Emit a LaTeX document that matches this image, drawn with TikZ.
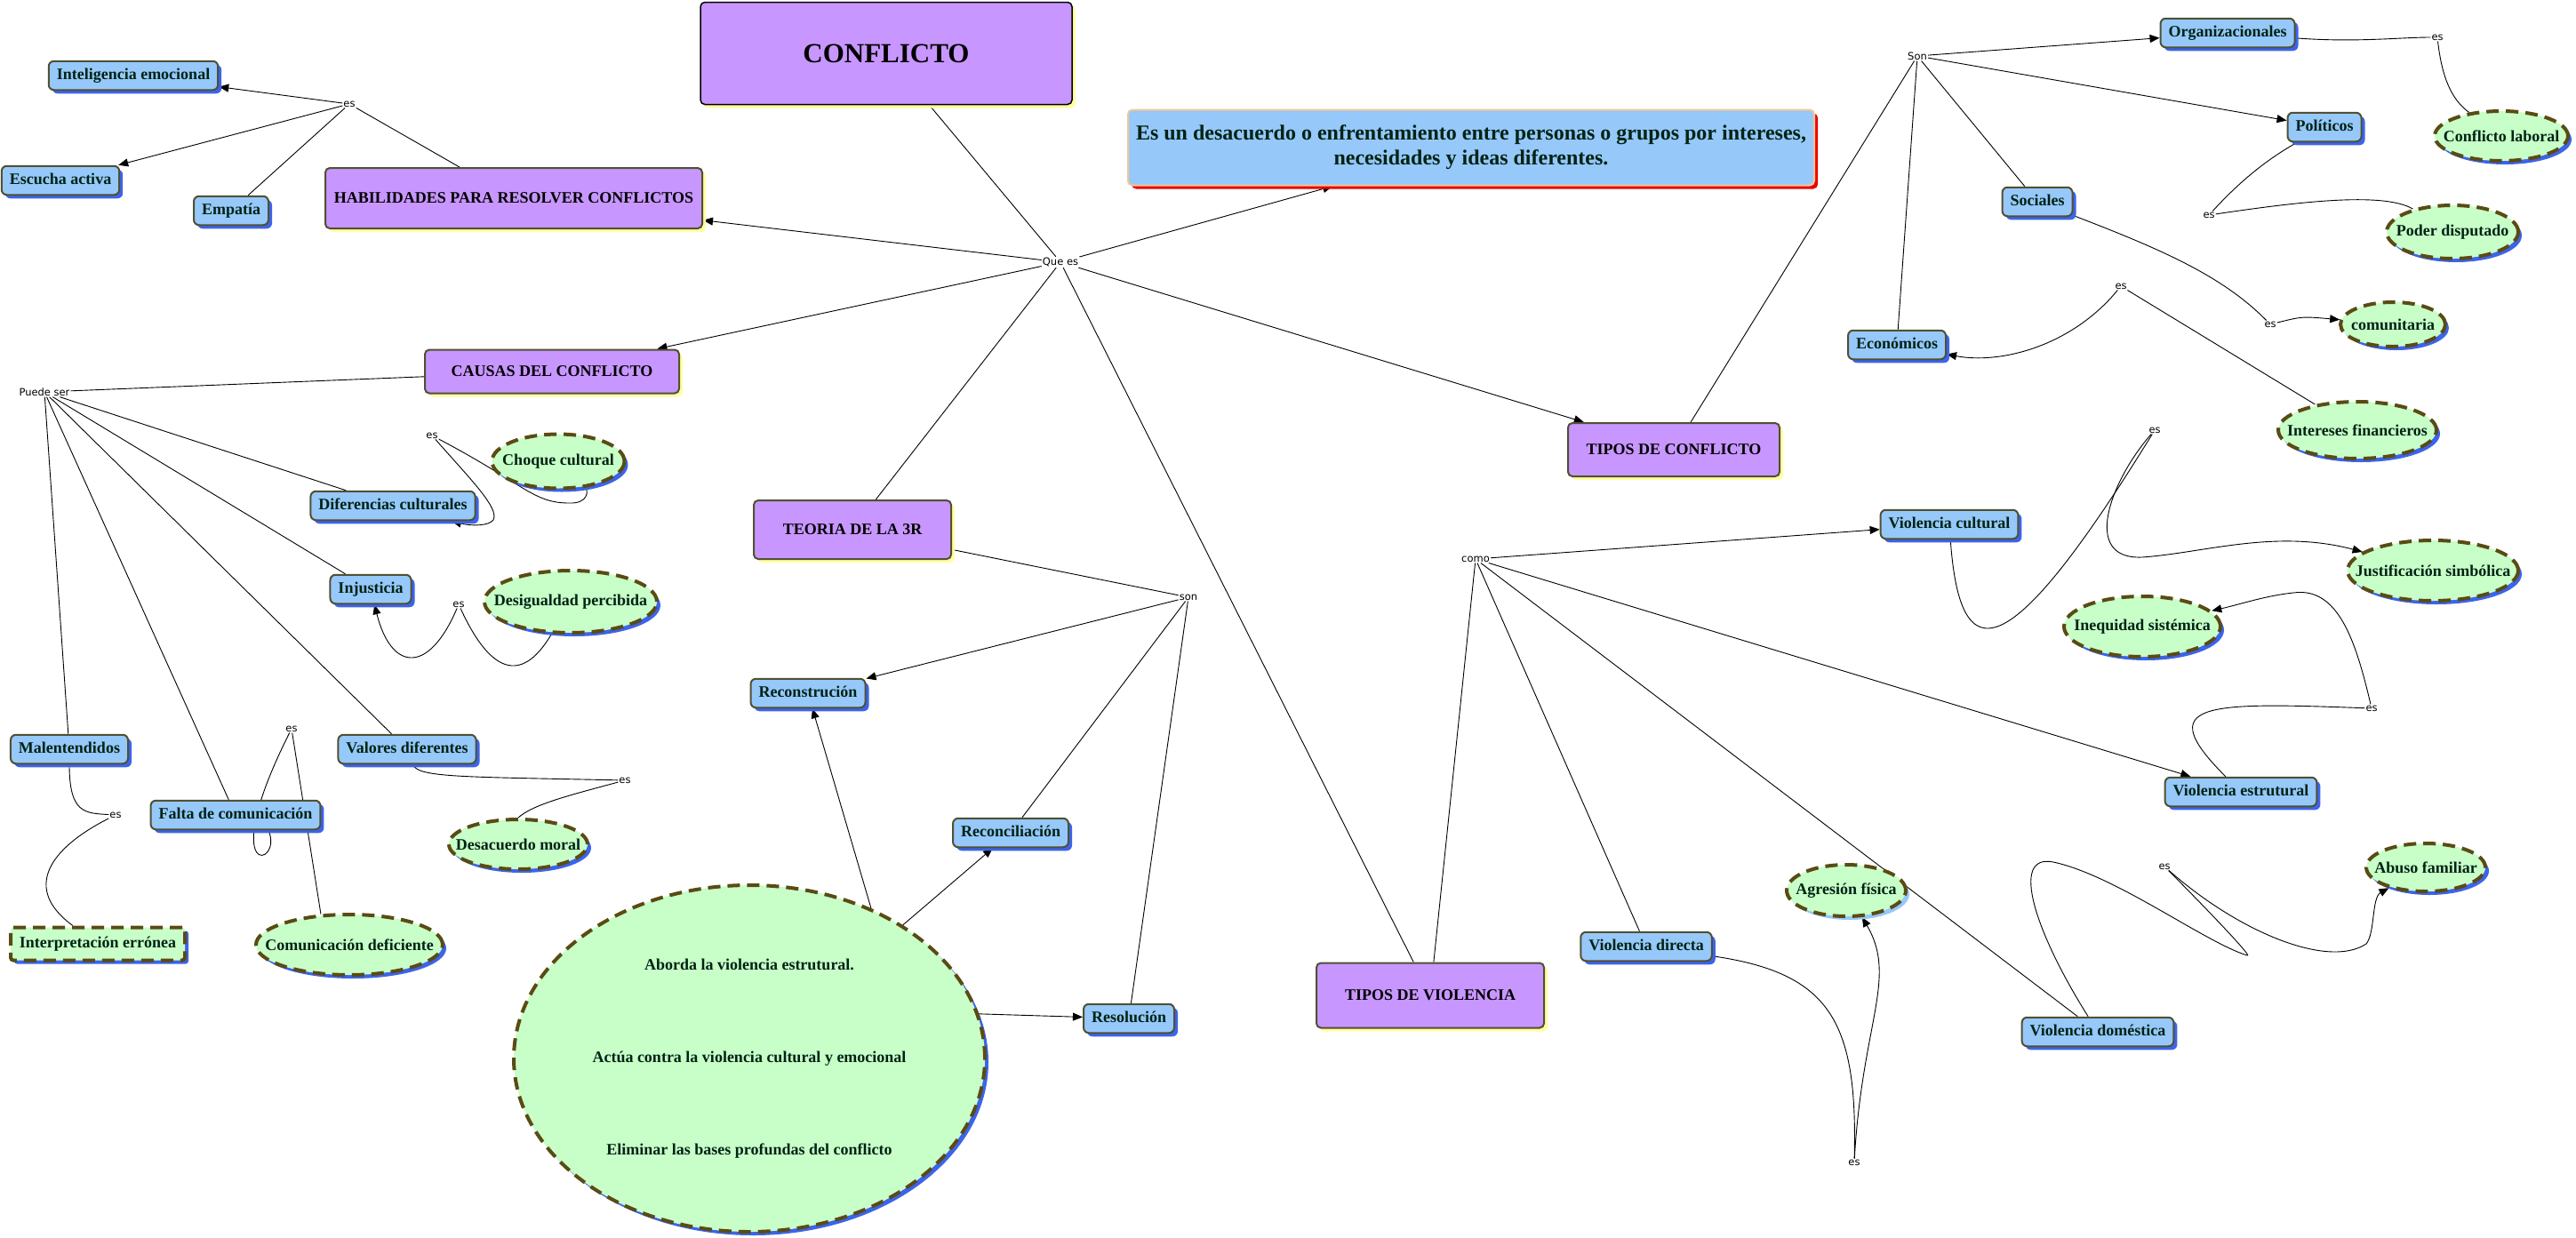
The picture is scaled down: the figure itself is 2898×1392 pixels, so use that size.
\documentclass[tikz,border=0pt]{standalone}
\usepackage{fontspec}
\setmainfont{Liberation Serif}
\newfontfamily\phrasefont{DejaVu Sans}
\usetikzlibrary{shapes.geometric,shadows,arrows.meta,backgrounds}
\definecolor{conceptblue}{RGB}{150,200,250}
\definecolor{shadowblue}{RGB}{60,100,235}
\definecolor{edgeolive}{RGB}{80,80,50}
\definecolor{topicpurple}{RGB}{200,150,255}
\definecolor{topicshadow}{RGB}{255,255,160}
\definecolor{ideagreen}{RGB}{200,255,200}
\definecolor{dashbrown}{RGB}{90,75,20}
\definecolor{textgreen}{RGB}{0,35,20}
\definecolor{deftan}{RGB}{240,200,150}
\definecolor{defred}{RGB}{235,0,0}
\begin{document}
\begin{tikzpicture}[x=1pt, y=-1pt,
  conn/.style={line width=0.9pt, black},
  arr/.style={-{Triangle[length=11pt,width=9pt]}},
  bshadow/.style={drop shadow={shadow xshift=4pt, shadow yshift=-4pt, fill=shadowblue, opacity=1}},
  lshadow/.style={drop shadow={shadow xshift=4pt, shadow yshift=-4pt, fill=conceptblue, opacity=1}},
  concept/.style={draw=edgeolive, line width=2pt, fill=conceptblue, rounded corners=6pt, text=textgreen,
    font=\bfseries\fontsize{18}{21}\selectfont, inner xsep=9pt, inner ysep=8pt, text height=12.5pt, text depth=4pt, bshadow},
  topic/.style={draw=edgeolive, line width=2pt, fill=topicpurple, rounded corners=5pt, text=black,
    font=\bfseries\fontsize{18}{21}\selectfont,
    drop shadow={shadow xshift=4pt, shadow yshift=-4pt, fill=topicshadow, opacity=1}},
  idea/.style={ellipse, draw=dashbrown, line width=4pt, dash pattern=on 14pt off 8pt, fill=ideagreen, text=textgreen,
    font=\bfseries\fontsize{18}{21}\selectfont, inner xsep=-30pt, inner ysep=0pt},
  idearect/.style={draw=dashbrown, line width=4pt, dash pattern=on 14pt off 8pt, fill=ideagreen, text=textgreen,
    rounded corners=3pt, font=\bfseries\fontsize{18}{21}\selectfont, bshadow},
  defbox/.style={draw=deftan, line width=2pt, fill=conceptblue, rounded corners=5pt, text=textgreen, align=center,
    font=\bfseries\fontsize{24}{28}\selectfont, inner xsep=8pt,
    drop shadow={shadow xshift=4pt, shadow yshift=-4pt, fill=defred, opacity=1}},
  phrase/.style={font=\phrasefont\fontsize{11.5}{13}\selectfont, inner sep=1pt}]
\useasboundingbox (0,0) rectangle (2898,1392);

\node[topic, minimum width=418pt, minimum height=115pt, draw=black, line width=1.5pt, font=\bfseries\fontsize{31}{36}\selectfont] (conflicto) at (997,60) {CONFLICTO};
\node[defbox, minimum width=772pt, minimum height=85pt] (definicion) at (1655,166) {Es un desacuerdo o enfrentamiento entre personas o grupos por intereses,\\ necesidades y ideas diferentes.};
\node[phrase] (quees) at (1193,295) {Que es};

% habilidades
\node[topic, minimum width=424pt, minimum height=68pt] (habilidades) at (578,223) {HABILIDADES PARA RESOLVER CONFLICTOS};
\node[phrase] (esHab) at (393,117) {es};
\node[concept] (inteligencia) at (150,85) {Inteligencia emocional};
\node[concept] (escucha) at (68,203) {Escucha activa};
\node[concept] (empatia) at (260,237) {Empatía};

% causas
\node[topic, minimum width=286pt, minimum height=49pt] (causas) at (621,418) {CAUSAS DEL CONFLICTO};
\node[phrase] (puedeser) at (50,441) {Puede ser};
\node[concept] (diferencias) at (442,569) {Diferencias culturales};
\node[phrase] (esDif) at (486,490) {es};
\node[idea, bshadow, minimum width=149pt, minimum height=61pt] (choque) at (628,519) {Choque cultural};
\node[concept] (injusticia) at (417,663) {Injusticia};
\node[phrase] (esInj) at (516,680) {es};
\node[idea, bshadow, minimum width=194pt, minimum height=70pt] (desigualdad) at (642,677) {Desigualdad percibida};
\node[concept] (malentendidos) at (78,843) {Malentendidos};
\node[phrase] (esMal) at (130,917) {es};
\node[idearect, minimum width=196pt, minimum height=37pt] (interpretacion) at (110,1062) {Interpretación errónea};
\node[concept] (falta) at (265,917) {Falta de comunicación};
\node[phrase] (esFal) at (328,820) {es};
\node[idea, bshadow, minimum width=210pt, minimum height=68pt] (comunicacion) at (393,1063) {Comunicación deficiente};
\node[concept] (valores) at (458,843) {Valores diferentes};
\node[phrase] (esVal) at (703,878) {es};
\node[idea, bshadow, minimum width=156pt, minimum height=56pt] (desacuerdo) at (583,950) {Desacuerdo moral};

% teoria 3R
\node[topic, minimum width=222pt, minimum height=66pt] (teoria) at (959,596) {TEORIA DE LA 3R};
\node[phrase] (son3r) at (1337,672) {son};
\node[concept] (reconstrucion) at (909,780) {Reconstrución};
\node[concept] (reconciliacion) at (1137,937) {Reconciliación};
\node[concept] (resolucion) at (1270,1146) {Resolución};
\node[idea, bshadow, minimum width=530pt, minimum height=390pt, align=center] (circulo) at (843,1191)
  {Aborda la violencia estrutural.\\[83pt] Actúa contra la violencia cultural y emocional\\[83pt] Eliminar las bases profundas del conflicto};

% tipos de conflicto
\node[topic, minimum width=238pt, minimum height=60pt] (tiposconf) at (1883,506) {TIPOS DE CONFLICTO};
\node[phrase] (sonTipos) at (2157,63) {Son};
\node[concept] (organizacionales) at (2506,37) {Organizacionales};
\node[phrase] (esOrg) at (2742,42) {es};
\node[idea, bshadow, minimum width=150pt, minimum height=56pt] (laboral) at (2814,153) {Conflicto laboral};
\node[concept] (politicos) at (2615,143) {Políticos};
\node[phrase] (esPol) at (2485,242) {es};
\node[idea, bshadow, minimum width=148pt, minimum height=60pt] (poder) at (2759,261) {Poder disputado};
\node[concept] (sociales) at (2292,227) {Sociales};
\node[phrase] (esSoc) at (2554,365) {es};
\node[idea, bshadow, minimum width=118pt, minimum height=50pt] (comunitaria) at (2692,365) {comunitaria};
\node[concept] (economicos) at (2134,388) {Económicos};
\node[phrase] (esEco) at (2386,322) {es};
\node[idea, bshadow, minimum width=178pt, minimum height=64pt] (intereses) at (2652,484) {Intereses financieros};

% tipos de violencia
\node[topic, minimum width=256pt, minimum height=73pt] (tiposviol) at (1609,1120) {TIPOS DE VIOLENCIA};
\node[phrase] (como) at (1660,629) {como};
\node[concept] (vcultural) at (2193,590) {Violencia cultural};
\node[phrase] (esCul) at (2424,484) {es};
\node[idea, bshadow, minimum width=192pt, minimum height=68pt] (justificacion) at (2737,642) {Justificación simbólica};
\node[concept] (vestrutural) at (2521,891) {Violencia estrutural};
\node[phrase] (esEst) at (2668,797) {es};
\node[idea, bshadow, minimum width=176pt, minimum height=68pt] (inequidad) at (2410,705) {Inequidad sistémica};
\node[concept] (vdirecta) at (1852,1065) {Violencia directa};
\node[phrase] (esDir) at (2086,1308) {es};
\node[idea, lshadow, minimum width=134pt, minimum height=58pt] (agresion) at (2077,1002) {Agresión física};
\node[concept] (vdomestica) at (2360,1161) {Violencia doméstica};
\node[phrase] (esDom) at (2435,975) {es};
\node[idea, bshadow, minimum width=134pt, minimum height=54pt] (abuso) at (2729,976) {Abuso familiar};

% connectors
\begin{pgfonlayer}{background}
\path[conn] (conflicto) edge (quees)
  (quees) edge[arr] (definicion) edge[arr] (habilidades) edge[arr] (causas) edge[arr] (tiposconf) edge (teoria) edge (tiposviol);

\path[conn] (habilidades) edge (esHab)
  (esHab) edge[arr] (inteligencia) edge[arr] (escucha) edge (empatia);

\path[conn] (causas) edge (puedeser)
  (puedeser) edge (diferencias) edge (injusticia) edge (valores) edge (falta) edge (malentendidos);
\draw[conn] (esDif) .. controls (590,545) and (600,566) .. (640,566) .. controls (662,567) and (662,552) .. (choque);
\draw[conn,arr] (esDif) .. controls (530,540) and (562,572) .. (555,585) .. controls (550,592) and (530,592) .. (diferencias);
\draw[conn,arr] (esInj) .. controls (482,760) and (440,755) .. (injusticia);
\draw[conn] (desigualdad) .. controls (590,765) and (555,765) .. (esInj);
\draw[conn] (malentendidos) .. controls (78,915) and (95,915) .. (esMal);
\draw[conn] (esMal) .. controls (55,955) and (25,1000) .. (interpretacion);
\draw[conn] (esFal) .. controls (240,995) and (320,975) .. (falta.-25);
\draw[conn] (esFal) -- (comunicacion.133);
\draw[conn] (valores) .. controls (470,875) and (520,874) .. (esVal);
\draw[conn] (esVal) .. controls (640,895) and (600,905) .. (desacuerdo.north);

\path[conn] (teoria) edge (son3r)
  (son3r) edge[arr] (reconstrucion) edge (reconciliacion) edge (resolucion);
\path[conn] (circulo.51) edge[arr] (reconstrucion)
  (circulo.41) edge[arr] (reconciliacion)
  (circulo.11) edge[arr] (resolucion);

\path[conn] (tiposconf) edge (sonTipos)
  (sonTipos) edge[arr] (organizacionales) edge[arr] (politicos) edge (sociales) edge (economicos);
\draw[conn] (organizacionales) .. controls (2650,48) and (2700,42) .. (esOrg);
\draw[conn] (esOrg) .. controls (2748,95) and (2762,115) .. (laboral);
\draw[conn] (politicos) .. controls (2540,185) and (2510,215) .. (esPol);
\draw[conn] (esPol) .. controls (2580,228) and (2680,215) .. (poder);
\draw[conn] (sociales) .. controls (2430,280) and (2500,310) .. (esSoc);
\draw[conn,arr] (esSoc) .. controls (2590,356) .. (comunitaria);
\draw[conn,arr] (esEco) .. controls (2330,390) and (2250,410) .. (economicos);
\path[conn] (esEco) edge (intereses);

\path[conn] (tiposviol) edge (como)
  (como) edge[arr] (vcultural) edge[arr] (vestrutural) edge (vdirecta) edge (vdomestica);
\draw[conn] (vcultural) .. controls (2205,760) and (2260,750) .. (esCul);
\draw[conn,arr] (esCul) .. controls (2375,540) and (2340,630) .. (2410,627) .. controls (2480,622) and (2560,595) .. (justificacion);
\draw[conn] (vestrutural) .. controls (2420,790) and (2480,790) .. (esEst);
\draw[conn,arr] (esEst) .. controls (2650,720) and (2630,660) .. (2580,667) .. controls (2550,670) and (2520,680) .. (inequidad);
\draw[conn] (vdirecta) .. controls (2060,1095) and (2090,1150) .. (esDir);
\draw[conn,arr] (esDir) .. controls (2095,1150) and (2135,1100) .. (agresion);
\draw[conn] (vdomestica) .. controls (2290,1050) and (2260,960) .. (2310,970) .. controls (2380,985) and (2480,1060) .. (2528,1075) .. controls (2536,1078) and (2470,1010) .. (esDom);
\draw[conn,arr] (esDom) .. controls (2520,1050) and (2620,1090) .. (2662,1062) .. controls (2672,1050) and (2668,1010) .. (abuso);
\end{pgfonlayer}
\end{tikzpicture}
\end{document}
